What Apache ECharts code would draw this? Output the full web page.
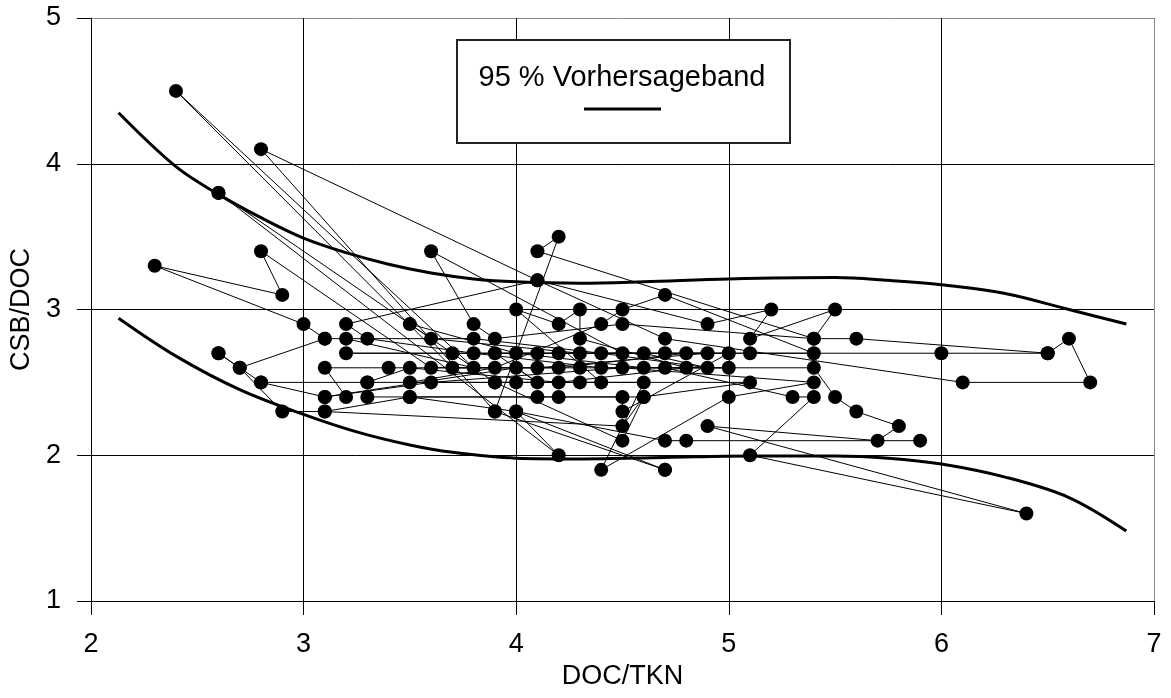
<!DOCTYPE html>
<html>
<head>
<meta charset="utf-8">
<script src="https://cdn.jsdelivr.net/npm/echarts@6/dist/echarts.min.js"></script>
<style>
html,body{margin:0;padding:0;background:#fff;}
#chart{width:1171px;height:698px;}
</style>
</head>
<body>
<div id="chart"></div>
<script>
// ---- axis settings ----
const xTicks = [2, 3, 4, 5, 6, 7];
const yTicks = [1, 2, 3, 4, 5];
const xName = 'DOC/TKN';
const yName = 'CSB/DOC';
const legendText = '95 % Vorhersageband';

// ---- 95 % prediction band (upper / lower) ----
const bandUpper = [[2.13,4.35],[2.4,3.98],[2.6,3.79],[2.8,3.63],[3.0,3.49],[3.2,3.39],[3.4,3.31],[3.6,3.25],[3.8,3.21],[4.0,3.19],[4.3,3.18],[4.6,3.19],[5.0,3.21],[5.5,3.22],[5.75,3.2],[6.0,3.17],[6.3,3.11],[6.6,3.0],[6.87,2.9]];
const bandLower = [[2.13,2.94],[2.4,2.68],[2.7,2.45],[3.0,2.28],[3.25,2.16],[3.5,2.07],[3.7,2.02],[4.0,1.98],[4.3,1.975],[4.7,1.985],[5.1,1.995],[5.5,1.995],[5.75,1.98],[6.0,1.94],[6.3,1.85],[6.6,1.71],[6.87,1.48]];

// ---- measured series (DOC/TKN, CSB/DOC), connected in sequence ----
const series1 = [[3.9,2.3],[2.8,4.1],[4.1,3.2],[4.7,2.8],[6.1,2.5],[6.7,2.5],[6.6,2.8],[6.5,2.7],[5.6,2.8],[5.4,2.8],[5.5,3.0],[5.1,2.8],[5.2,3.0],[4.9,2.9],[4.1,3.2],[3.2,2.9],[3.3,2.8],[3.8,2.7],[4.4,2.6],[5.0,2.6],[4.3,2.6],[3.4,2.6],[3.1,2.6],[3.2,2.4]];
const series2 = [[3.2,2.8],[3.8,2.6],[2.4,4.5],[3.7,2.6],[4.1,2.6],[4.9,2.7],[4.3,2.7],[3.6,2.8],[3.5,2.9],[4.0,2.7],[4.6,2.6],[5.4,2.6],[5.5,2.4],[5.6,2.3],[5.8,2.2],[5.7,2.1],[4.9,2.2],[6.4,1.6],[5.1,2.0],[5.4,2.4],[5.3,2.4],[4.7,2.6]];
const series3 = [[2.6,2.7],[2.7,2.6],[3.1,2.8],[3.0,2.9],[2.3,3.3],[2.9,3.1],[2.8,3.4],[3.6,2.6],[4.2,2.6],[4.8,2.7],[5.4,2.7],[4.7,3.1],[4.5,3.0],[4.4,2.9],[3.9,2.6],[3.5,2.5],[4.3,2.5],[5.1,2.5],[4.6,2.4],[4.2,2.4],[3.3,2.4]];
const series4 = [[2.6,2.7],[2.8,2.5],[3.3,2.5],[4.0,2.5],[4.6,2.5],[4.4,1.9],[5.0,2.4],[5.4,2.5],[4.5,2.6],[3.6,2.5],[3.1,2.4],[2.8,2.5]];
const series5 = [[2.7,2.6],[2.9,2.3],[3.1,2.3],[3.5,2.4],[4.1,2.4],[4.5,2.4],[4.5,2.3],[5.0,2.7],[4.2,2.7],[3.7,2.7],[3.2,2.7],[4.1,2.7],[4.7,2.7],[5.1,2.7],[6.0,2.7],[6.5,2.7]];
const series6 = [[2.6,3.8],[3.9,2.5],[4.4,2.5],[4.0,3.0],[4.2,2.9],[4.3,3.0],[4.3,2.8],[4.8,2.6],[4.2,2.5],[3.5,2.6],[3.3,2.5]];
const series7 = [[4.7,1.9],[3.9,2.3],[4.2,3.5],[4.1,3.4],[5.4,2.8],[4.5,2.9],[3.9,2.8],[3.8,2.9],[3.6,3.4],[4.5,2.7]];
const series8 = [[2.6,3.8],[4.2,2.0],[4.0,2.3],[4.7,1.9]];
const series9 = [[3.5,2.4],[4.0,2.3],[4.7,2.1],[4.8,2.1],[5.9,2.1]];
const series10 = [[3.1,2.3],[4.5,2.2],[4.6,2.4],[4.5,2.1],[3.9,2.5]];
const series11 = [[3.1,2.8],[3.8,2.8],[4.4,2.7],[4.9,2.6],[4.6,2.7],[3.9,2.7],[4.1,2.5],[4.0,2.6],[3.1,2.4]];

const measured = [series1, series2, series3, series4, series5, series6, series7, series8, series9, series10, series11];

const chart = echarts.init(document.getElementById('chart'), null, {renderer: 'canvas'});
const font = 'Arial, "Liberation Sans", sans-serif';

const seriesList = [];
[bandUpper, bandLower].forEach(function (b) {
  seriesList.push({
    type: 'line', data: b, symbol: 'none', smooth: 0.35, z: 3,
    lineStyle: {color: '#000', width: 3}, silent: true
  });
});
measured.forEach(function (s) {
  seriesList.push({
    type: 'line', data: s, symbol: 'circle', symbolSize: 14, z: 4,
    itemStyle: {color: '#000'},
    lineStyle: {color: '#000', width: 1}, silent: true
  });
});

chart.setOption({
  animation: false,
  backgroundColor: '#fff',
  grid: {left: 88, right: 17, top: 18, bottom: 97, containLabel: false},
  xAxis: {
    type: 'value', min: xTicks[0], max: xTicks[xTicks.length - 1], interval: 1,
    name: xName, nameLocation: 'middle', nameGap: 62,
    nameTextStyle: {fontFamily: font, fontSize: 27, color: '#000'},
    axisLine: {show: true, lineStyle: {color: '#000', width: 1}},
    axisTick: {show: true, inside: false, length: 14, lineStyle: {color: '#000'}},
    axisLabel: {fontFamily: font, fontSize: 27, color: '#000', margin: 30},
    splitLine: {show: true, lineStyle: {color: ['#000','#000','#000','#000','#000','#888'], width: 1}}
  },
  yAxis: {
    type: 'value', min: yTicks[0], max: yTicks[yTicks.length - 1], interval: 1,
    name: yName, nameLocation: 'middle', nameGap: 52,
    nameTextStyle: {fontFamily: font, fontSize: 27, color: '#000'},
    axisLine: {show: true, lineStyle: {color: '#000', width: 1}},
    axisTick: {show: true, inside: false, length: 14, lineStyle: {color: '#000'}},
    axisLabel: {fontFamily: font, fontSize: 27, color: '#000', margin: 30},
    splitLine: {show: true, lineStyle: {color: ['#000','#000','#000','#000','#888'], width: 1}}
  },
  graphic: [
    {type: 'rect', left: 456, top: 39, z: 10,
     shape: {width: 333, height: 103},
     style: {fill: '#fff', stroke: '#222', lineWidth: 2}},
    {type: 'text', z: 11, x: 622, y: 78,
     style: {text: legendText, font: '29px ' + font, fill: '#000',
             textAlign: 'center', textVerticalAlign: 'middle'}},
    {type: 'line', z: 11,
     shape: {x1: 584, y1: 109, x2: 661, y2: 109},
     style: {stroke: '#000', lineWidth: 3}}
  ],
  series: seriesList
});
</script>
</body>
</html>
